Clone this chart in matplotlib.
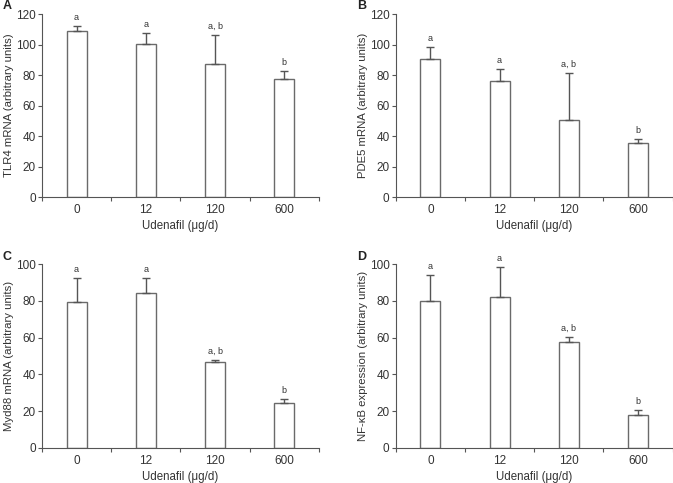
import matplotlib
matplotlib.use("Agg")
import matplotlib.pyplot as plt
import numpy as np

plt.rcParams['font.family'] = ['Liberation Sans', 'DejaVu Sans']

categories = ["0", "12", "120", "600"]

tlr4_mean = [109.0, 100.5, 87.0, 77.6]
tlr4_err = [3.1, 7.2, 19.0, 4.8]
tlr4_sig = ["a", "a", "a, b", "b"]

pde5_mean = [90.3, 76.1, 50.5, 35.2]
pde5_err = [7.9, 7.6, 30.6, 2.8]
pde5_sig = ["a", "a", "a, b", "b"]

myd88_mean = [79.4, 84.2, 46.7, 24.2]
myd88_err = [13.0, 8.2, 0.9, 2.4]
myd88_sig = ["a", "a", "a, b", "b"]

nfkb_mean = [79.8, 82.3, 57.6, 17.7]
nfkb_err = [14.2, 16.1, 2.6, 3.0]
nfkb_sig = ["a", "a", "a, b", "b"]

panels = [
    ("A", tlr4_mean, tlr4_err, tlr4_sig, "TLR4 mRNA (arbitrary units)", 120, [0.0624, 0.592, 0.4116, 0.379]),
    ("B", pde5_mean, pde5_err, pde5_sig, "PDE5 mRNA (arbitrary units)", 120, [0.588, 0.592, 0.4115, 0.379]),
    ("C", myd88_mean, myd88_err, myd88_sig, "Myd88 mRNA (arbitrary units)", 100, [0.0624, 0.0731, 0.4116, 0.3797]),
    ("D", nfkb_mean, nfkb_err, nfkb_sig, "NF-\u03baB expression (arbitrary units)", 100, [0.588, 0.0731, 0.4115, 0.3797]),
]

line_col = "#555555"
text_col = "#333333"

fig = plt.figure(figsize=(6.73, 4.83), dpi=100)

for label, mean, err, sig, ylab, ymax, rect in panels:
    ax = fig.add_axes(rect)
    x = np.arange(len(categories)) + 0.5
    ax.bar(x, mean, width=0.29, color="white", edgecolor="#6a6a6a", linewidth=1.0, zorder=2)
    ax.errorbar(x, mean, yerr=[np.zeros(len(mean)), err], fmt="none",
                ecolor="#555555", elinewidth=1.0, capsize=3, capthick=1.0, zorder=3)
    for xi, m, e, s in zip(x, mean, err, sig):
        ax.annotate(s, (xi, m + e), xytext=(0, 3), textcoords="offset points",
                    ha="center", va="bottom", fontsize=6.5, color=text_col)
    ax.set_xlim(0, 4)
    ax.set_ylim(0, ymax)
    ax.set_yticks(np.arange(0, ymax + 1, 20))
    ax.set_xticks(np.arange(0, 5))
    ax.set_xticklabels([])
    ax.set_xticks(x, minor=True)
    ax.set_xticklabels(categories, minor=True)
    ax.tick_params(axis="x", which="major", direction="out", length=3, width=0.8, color=line_col)
    ax.tick_params(axis="x", which="minor", length=0, pad=5, labelsize=8.5, labelcolor=text_col)
    ax.tick_params(axis="y", direction="out", length=3, width=0.8, color=line_col,
                   labelsize=8.5, labelcolor=text_col, pad=1.5)
    for sp in ["top", "right"]:
        ax.spines[sp].set_visible(False)
    for sp in ["left", "bottom"]:
        ax.spines[sp].set_color(line_col)
        ax.spines[sp].set_linewidth(0.8)
    ax.set_xlabel("Udenafil (\u03bcg/d)", fontsize=8.3, color=text_col, labelpad=3)
    ax.set_ylabel(ylab, fontsize=8.2, color=text_col, labelpad=1)
    pos = ax.get_position()
    fig.text(pos.x0 - 0.058, pos.y1 + 0.016, label, fontsize=9, fontweight="bold",
             color="#222222", ha="left", va="center")

fig.savefig("out.png", dpi=100)
